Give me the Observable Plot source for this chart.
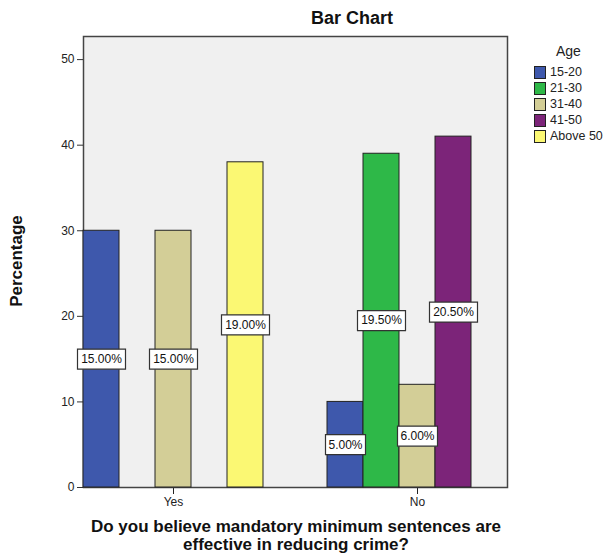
<!DOCTYPE html>
<html><head><meta charset="utf-8">
<script src="https://cdn.jsdelivr.net/npm/d3@7"></script>
<script src="https://cdn.jsdelivr.net/npm/@observablehq/plot@0.6"></script>
<style>
body{margin:0;background:#fff;font-family:"Liberation Sans",Arial,sans-serif;}
#wrap{position:relative;width:605px;height:554px;overflow:hidden;}
#wrap svg{position:absolute;left:0;top:0;}
.title{position:absolute;left:311px;top:8px;font-size:18px;font-weight:bold;color:#111;white-space:nowrap;}
.ytitle{position:absolute;left:17px;top:261px;transform:translate(-50%,-50%) rotate(-90deg);font-size:17px;font-weight:bold;color:#111;white-space:nowrap;}
.xtitle{position:absolute;left:0;width:592px;top:518px;text-align:center;font-size:17px;font-weight:bold;line-height:18px;color:#111;}
.legend{position:absolute;left:534px;top:43px;font-size:12.5px;color:#222;}
.legend .lt{font-size:14px;margin-left:22px;margin-bottom:5px;}
.legend .row{display:flex;align-items:center;height:16px;}
.legend .sw{width:10px;height:11px;border:1px solid #222;margin-right:4px;}
</style></head><body><div id="wrap"></div>
<script>
const answers = ["Yes", "No"];
const ageGroups = ["15-20", "21-30", "31-40", "41-50", "Above 50"];
const ageColors = ["#3e58ac", "#2eb848", "#d3ce97", "#7c2479", "#fbf873"];
const yesValues = [30, null, 30, null, 38];
const noValues = [10, 39, 12, 41, null];
const yesShares = ["15.00%", null, "15.00%", null, "19.00%"];
const noShares = ["5.00%", "19.50%", "6.00%", "20.50%", null];
const yTicks = [0, 10, 20, 30, 40, 50];

const rows = [];
[[answers[0], yesValues, yesShares], [answers[1], noValues, noShares]].forEach(([ans, vals, shares]) => {
  vals.forEach((v, i) => { if (v != null) rows.push({answer: ans, age: ageGroups[i], value: v, share: shares[i]}); });
});

const labelBox = {
  draw(context, size) {
    const w = Math.sqrt(size / Math.PI), h = 20;
    context.rect(-w / 2, -h / 2, w, h);
  }
};

const chart = Plot.plot({
  width: 605, height: 554,
  marginLeft: 59, marginRight: 73, marginTop: 36, marginBottom: 67,
  style: {fontFamily: "'Liberation Sans', Arial, sans-serif", fontSize: "12px", color: "#222", background: "transparent", overflow: "visible"},
  fx: {domain: answers, paddingInner: 0.261, paddingOuter: 0.098, label: null, tickSize: 7, tickPadding: 3},
  x: {domain: ageGroups, padding: 0, axis: null},
  y: {domain: [0, 52.7], label: null},
  color: {domain: ageGroups, range: ageColors},
  r: {type: "identity"},
  marks: [
    Plot.frame({facet: "super", fill: "#f0f0f0", stroke: "#444", strokeWidth: 1.5}),
    Plot.axisY(yTicks, {tickSize: 6, tickPadding: 3, label: null, stroke: "#333"}),
    Plot.barY(rows, {fx: "answer", x: "age", y: "value", fill: "age", stroke: "#222", strokeWidth: 1}),
    Plot.dot(rows, {fx: "answer", x: "age", y: d => d.value / 2, r: d => d.share.length * 8, symbol: labelBox, fill: "#fff", stroke: "#333", strokeWidth: 1.2}),
    Plot.text(rows, {fx: "answer", x: "age", y: d => d.value / 2, text: "share", fontSize: 12, fill: "#111"})
  ]
});

const wrap = document.getElementById("wrap");
wrap.appendChild(chart);

const t = document.createElement("div"); t.className = "title"; t.textContent = "Bar Chart"; wrap.appendChild(t);
const yt = document.createElement("div"); yt.className = "ytitle"; yt.textContent = "Percentage"; wrap.appendChild(yt);
const xt = document.createElement("div"); xt.className = "xtitle";
xt.innerHTML = "Do you believe mandatory minimum sentences are<br>effective in reducing crime?"; wrap.appendChild(xt);

const lg = document.createElement("div"); lg.className = "legend";
const lt = document.createElement("div"); lt.className = "lt"; lt.textContent = "Age"; lg.appendChild(lt);
ageGroups.forEach((a, i) => {
  const r = document.createElement("div"); r.className = "row";
  const s = document.createElement("div"); s.className = "sw"; s.style.background = ageColors[i];
  const l = document.createElement("span"); l.textContent = a;
  r.appendChild(s); r.appendChild(l); lg.appendChild(r);
});
wrap.appendChild(lg);
</script></body></html>
